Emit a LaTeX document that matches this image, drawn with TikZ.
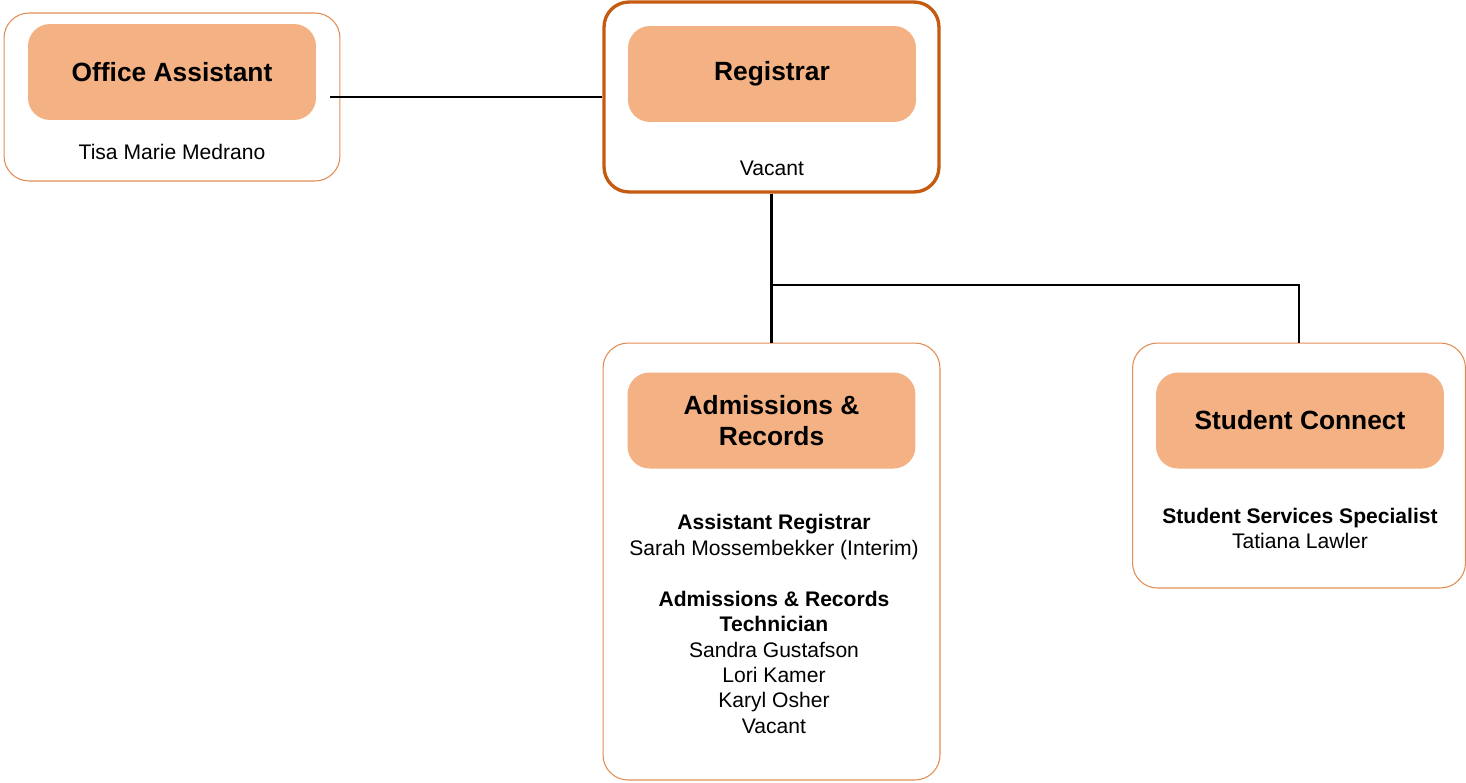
\documentclass[tikz,border=0pt]{standalone}
\usepackage{fontspec}
\setmainfont{Liberation Sans}
\usetikzlibrary{positioning}
\definecolor{headfill}{RGB}{244,177,131}
\definecolor{boxline}{RGB}{226,140,84}
\definecolor{regline}{RGB}{197,90,17}

\begin{document}
\begin{tikzpicture}[x=0.02cm, y=-0.02cm,
    unit/.style={draw=boxline, line width=0.6pt, rounded corners=0.5cm, fill=white},
    head unit/.style={unit, draw=regline, line width=1.9pt},
    head/.style={fill=headfill, rounded corners=0.44cm, minimum width=5.76cm,
      minimum height=1.92cm, align=center, font=\fontsize{15}{17.6}\selectfont\bfseries},
    person/.style={align=center, font=\fontsize{12}{14.5}\selectfont},
    link/.style={line width=1.3pt}]

\useasboundingbox (0,0) rectangle (1466,782);

\node [unit, minimum width=6.72cm, minimum height=3.36cm] (office) at (172,97) {};
\node [head unit, minimum width=6.7cm, minimum height=3.8cm] (registrar) at (771.5,97) {};
\node [unit, minimum width=6.74cm, minimum height=8.74cm] (admissions) at (771.5,561.5) {};
\node [unit, minimum width=6.66cm, minimum height=4.9cm] (connect) at (1299,465.5) {};

\foreach \n/\x/\y/\t in {office/172/72/Office Assistant,
                         registrar/772/74/Registrar,
                         admissions/771.5/420.5/{Admissions \&\\ Records},
                         connect/1300/420.5/Student Connect}
  \node [head] (\n-head) at (\x,\y) {\t};

\node [person] (office-name) at (172,152) {Tisa Marie Medrano};
\node [person] (registrar-name) at (772,168) {Vacant};
\node [person] (admissions-staff) at (774,624) {\textbf{Assistant Registrar}\\
  Sarah Mossembekker (Interim)\\[14.5pt]
  \textbf{Admissions \& Records}\\ \textbf{Technician}\\
  Sandra Gustafson\\ Lori Kamer\\ Karyl Osher\\ Vacant};
\node [person] (connect-staff) at (1300,528.5) {\textbf{Student Services Specialist}\\
  Tatiana Lawler};

\coordinate (office-link) at (330,97);
\coordinate (branch) at (772,285);

\draw [link] (office-link) -- (registrar.west);
\draw [link] (registrar.south) -- (admissions.north);
\draw [link] (branch) -| (connect.north);

\end{tikzpicture}
\end{document}
